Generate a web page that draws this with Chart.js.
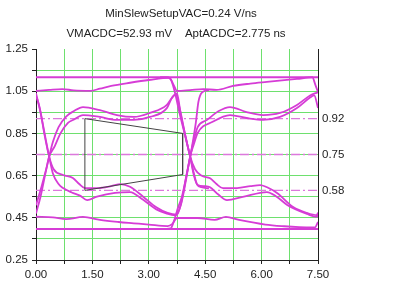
<!DOCTYPE html>
<html>
<head>
<meta charset="utf-8">
<script src="https://cdn.jsdelivr.net/npm/chart.js@4.4.1/dist/chart.umd.min.js"></script>
<style>
  html, body { margin: 0; padding: 0; background: #fff; }
  canvas { display: block; }
</style>
</head>
<body>
<canvas id="eye" width="395" height="286"></canvas>
<script>
const titleLine1 = 'MinSlewSetupVAC=0.24 V/ns';
const titleLine2 = 'VMACDC=52.93 mV    AptACDC=2.775 ns';

// axis ticks
const xTicks = [0, 0.75, 1.5, 2.25, 3, 3.75, 4.5, 5.25, 6, 6.75, 7.5];
const xLabelTicks = [0, 1.5, 3, 4.5, 6, 7.5];
const yTicks = [0.25, 0.35, 0.45, 0.55, 0.65, 0.75, 0.85, 0.95, 1.05, 1.15, 1.25];
const yLabelTicks = [0.25, 0.45, 0.65, 0.85, 1.05, 1.25];
const levelTicks = [0.58, 0.75, 0.92];

// eye mask
const maskPoints = [[1.3, 0.92], [3.9, 0.85], [3.9, 0.655], [1.3, 0.58], [1.3, 0.92]];

// traces, [time ns, volts]
const highConst = [[0, 1.116], [7.5, 1.116]];
const lowConst = [[0, 0.397], [7.5, 0.397]];
const highDroop = [[0, 1.051], [0.35, 1.056], [0.7, 1.06], [1.0, 1.054], [1.45, 1.052], [1.7, 1.062], [2.0, 1.075], [2.5, 1.09], [3.0, 1.103], [3.55, 1.113], [3.66, 1.08], [3.75, 1.051], [4.1, 1.055], [4.45, 1.06], [4.8, 1.056], [5.24, 1.075], [5.7, 1.086], [6.14, 1.094], [6.94, 1.108], [7.35, 1.116], [7.43, 1.08], [7.5, 1.046]];
const lowDroop = [[0, 0.455], [0.45, 0.452], [0.8, 0.444], [1.25, 0.454], [1.7, 0.44], [2.2, 0.43], [2.6, 0.424], [3.0, 0.418], [3.5, 0.411], [3.62, 0.42], [3.75, 0.449], [4.3, 0.449], [4.75, 0.44], [5.05, 0.454], [5.4, 0.44], [6.1, 0.418], [6.6, 0.41], [7.0, 0.406], [7.42, 0.405], [7.5, 0.43]];
const fallA = [[0, 1.03], [0.1, 0.97], [0.22, 0.85], [0.35, 0.74], [0.47, 0.68], [0.72, 0.653], [0.98, 0.639], [1.15, 0.61], [1.3, 0.591], [1.62, 0.591], [2.0, 0.6], [2.25, 0.61], [2.5, 0.597], [2.85, 0.55], [3.2, 0.5], [3.5, 0.473], [3.75, 0.465], [3.86, 0.52], [3.98, 0.63], [4.1, 0.74], [4.2, 0.82], [4.3, 0.88], [4.55, 0.914], [4.85, 0.955], [5.16, 0.975], [5.6, 0.951], [6.04, 0.937], [6.49, 0.947], [6.94, 0.985], [7.29, 1.03], [7.5, 1.045]];
const fallB = [[0, 1.04], [0.12, 0.95], [0.25, 0.83], [0.35, 0.74], [0.45, 0.66], [0.6, 0.61], [0.72, 0.591], [0.95, 0.57], [1.17, 0.555], [1.36, 0.534], [1.62, 0.55], [2.1, 0.568], [2.5, 0.572], [2.85, 0.535], [3.2, 0.49], [3.48, 0.47], [3.7, 0.462], [3.85, 0.51], [3.98, 0.62], [4.1, 0.74], [4.2, 0.8], [4.3, 0.852], [4.7, 0.905], [5.16, 0.937], [5.6, 0.923], [6.04, 0.914], [6.49, 0.928], [6.94, 0.97], [7.29, 1.02], [7.4, 1.03], [7.5, 0.97]];
const riseA = [[0, 0.47], [0.12, 0.55], [0.25, 0.66], [0.35, 0.74], [0.45, 0.81], [0.6, 0.88], [0.8, 0.93], [1.0, 0.955], [1.25, 0.975], [1.7, 0.96], [2.15, 0.937], [2.6, 0.928], [3.03, 0.947], [3.48, 0.985], [3.62, 1.02], [3.72, 1.035], [3.82, 0.97], [3.96, 0.85], [4.1, 0.74], [4.23, 0.68], [4.4, 0.65], [4.63, 0.637], [4.8, 0.61], [4.97, 0.591], [5.35, 0.591], [5.7, 0.6], [5.96, 0.605], [6.2, 0.59], [6.41, 0.568], [6.84, 0.501], [7.21, 0.473], [7.47, 0.463], [7.5, 0.475]];
const riseB = [[0, 0.51], [0.15, 0.6], [0.27, 0.68], [0.35, 0.74], [0.5, 0.79], [0.65, 0.85], [0.85, 0.9], [1.0, 0.915], [1.25, 0.937], [1.7, 0.928], [2.15, 0.914], [2.6, 0.914], [3.03, 0.928], [3.48, 0.97], [3.62, 1.02], [3.75, 1.04], [3.84, 0.95], [3.97, 0.84], [4.1, 0.74], [4.2, 0.65], [4.3, 0.605], [4.5, 0.6], [4.63, 0.595], [4.85, 0.56], [5.08, 0.534], [5.5, 0.549], [6.14, 0.572], [6.4, 0.55], [6.68, 0.511], [7.21, 0.468], [7.47, 0.454], [7.5, 0.47]];
const highFall = [[3.3, 1.116], [3.5, 1.116], [3.6, 1.1], [3.7, 1.04], [3.8, 0.96], [3.95, 0.85], [4.1, 0.74], [4.2, 0.66], [4.28, 0.61], [4.4, 0.595], [4.6, 0.59]];
const lowRise = [[3.3, 0.397], [3.58, 0.4], [3.66, 0.43], [3.78, 0.5], [3.88, 0.55], [4.0, 0.65], [4.1, 0.738], [4.18, 0.82], [4.25, 0.9], [4.32, 1.0], [4.42, 1.045], [4.6, 1.055]];

const traces = [highConst, lowConst, highDroop, lowDroop, fallA, fallB, riseA, riseB, highFall, lowRise];

const traceColor = '#d63cd6';
const levelColor = '#dc78dc';
const gridGreen = '#6ee06e';
const axisColor = '#222';

function near(list, v) {
    return list.some(t => Math.abs(t - v) < 1e-6);
}

const datasets = [];
datasets.push({
    data: maskPoints,
    showLine: true,
    borderColor: '#444',
    borderWidth: 1,
    pointRadius: 0,
    tension: 0
});
traces.forEach(points => {
    datasets.push({
        data: points,
        showLine: true,
        borderColor: traceColor,
        borderWidth: 1.8,
        pointRadius: 0,
        cubicInterpolationMode: 'monotone'
    });
});
levelTicks.forEach(level => {
    datasets.push({
        data: [[0, level], [7.5, level]],
        showLine: true,
        borderColor: levelColor,
        borderWidth: 1.4,
        borderDash: [9, 3, 2, 3],
        pointRadius: 0
    });
});

// title lines over the plot
const titlePlugin = {
    id: 'eyeTitle',
    afterDraw(chart) {
        const c = chart.ctx;
        const mid = (chart.chartArea.left + chart.chartArea.right) / 2;
        c.save();
        c.fillStyle = axisColor;
        c.font = '11.5px "Liberation Sans", Arial, sans-serif';
        c.textAlign = 'center';
        c.textBaseline = 'middle';
        c.fillText(titleLine1, mid + 4, 14);
        c.fillText(titleLine2, mid - 1, 34);
        c.restore();
    }
};

Chart.defaults.font.family = '"Liberation Sans", Arial, sans-serif';
Chart.defaults.font.size = 11.5;
Chart.defaults.color = axisColor;

new Chart(document.getElementById('eye'), {
    type: 'scatter',
    data: { datasets },
    options: {
        responsive: false,
        animation: false,
        devicePixelRatio: 1,
        layout: { padding: { top: 49, right: 0, bottom: 0, left: 0 } },
        plugins: {
            legend: { display: false },
            tooltip: { enabled: false },
            title: { display: false }
        },
        scales: {
            x: {
                type: 'linear',
                min: 0,
                max: 7.5,
                afterBuildTicks: s => { s.ticks = xTicks.map(v => ({ value: v })); },
                afterFit: s => { s.height = 26; },
                grid: { color: gridGreen, lineWidth: 1, tickLength: 4, tickColor: axisColor },
                border: { color: axisColor, width: 1 },
                ticks: {
                    autoSkip: false,
                    maxRotation: 0,
                    padding: 4,
                    callback: v => near(xLabelTicks, v) ? v.toFixed(2) : ''
                }
            },
            y: {
                position: 'left',
                min: 0.25,
                max: 1.25,
                afterBuildTicks: s => { s.ticks = yTicks.map(v => ({ value: v })); },
                afterFit: s => { s.width = 36; },
                grid: {
                    color: ctx => (ctx.tick && ctx.tick.value > 1.24) ? 'rgba(0,0,0,0)' : gridGreen,
                    lineWidth: 1,
                    tickLength: 4,
                    tickColor: axisColor
                },
                border: { color: axisColor, width: 1 },
                ticks: {
                    autoSkip: false,
                    padding: 4,
                    callback: v => near(yLabelTicks, v) ? v.toFixed(2) : ''
                }
            },
            y2: {
                position: 'right',
                min: 0.25,
                max: 1.25,
                afterBuildTicks: s => { s.ticks = levelTicks.map(v => ({ value: v })); },
                afterFit: s => { s.width = 77; },
                grid: { display: false, drawTicks: false },
                border: { display: true, color: axisColor, width: 1 },
                ticks: {
                    autoSkip: false,
                    padding: 4,
                    callback: v => v.toFixed(2)
                }
            }
        }
    },
    plugins: [titlePlugin]
});
</script>
</body>
</html>
